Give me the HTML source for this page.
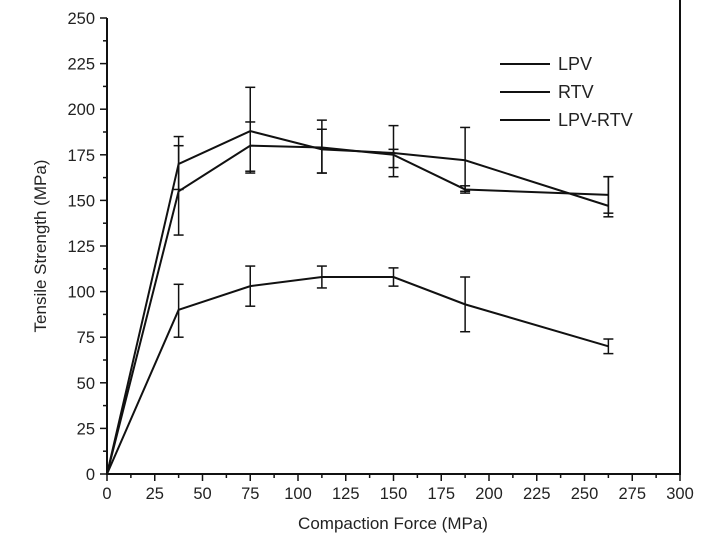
<!DOCTYPE html>
<html><head><style>body{margin:0;background:#fff}svg{display:block}text{font-family:"Liberation Sans",sans-serif;fill:#222}</style></head><body>
<svg width="720" height="546" xmlns="http://www.w3.org/2000/svg">
<g stroke="#111" stroke-width="2" fill="none">
<line x1="107" y1="18" x2="107" y2="475"/>
<line x1="106" y1="474" x2="681" y2="474"/>
<line x1="680" y1="0" x2="680" y2="475"/>
</g>
<g id="ticks" stroke="#111" stroke-width="1.5"></g>
<g id="lab" font-size="16.5"></g>
<g id="ser" stroke="#111" fill="none"></g>
<text x="393" y="529" font-size="17" text-anchor="middle">Compaction Force (MPa)</text>
<text transform="translate(46,246) rotate(-90)" font-size="17" text-anchor="middle">Tensile Strength (MPa)</text>
<g stroke="#111" stroke-width="2"><line x1="500" y1="64" x2="550" y2="64"/><line x1="500" y1="92" x2="550" y2="92"/><line x1="500" y1="120" x2="550" y2="120"/></g>
<g font-size="18"><text x="558" y="70">LPV</text><text x="558" y="98">RTV</text><text x="558" y="126">LPV-RTV</text></g>
<script>
var X=v=>107+v*1.91,Y=v=>474-v*1.824,ns="http://www.w3.org/2000/svg";
function el(p,t,a,txt){var e=document.createElementNS(ns,t);for(var k in a)e.setAttribute(k,a[k]);if(txt!=null)e.textContent=txt;document.getElementById(p).appendChild(e);}
for(var v=0;v<=300;v+=12.5){var maj=v%25==0;el("ticks","line",{x1:X(v),y1:474,x2:X(v),y2:474+(maj?7:4)});if(maj)el("lab","text",{x:X(v),y:499,"text-anchor":"middle"},v);}
for(var v=0;v<=250;v+=12.5){var maj=v%25==0;el("ticks","line",{x1:107,y1:Y(v),x2:107-(maj?7:4),y2:Y(v)});if(maj)el("lab","text",{x:95,y:Y(v)+6,"text-anchor":"end"},v);}
var xs=[0,37.5,75,112.5,150,187.5,262.5];
var S=[[[0,170,188,178,176,172,147],[0,185,212,194,191,190,163],[0,156,165,165,163,155,141]],
[[0,155,180,179,175,156,153],[0,180,193,189,178,158,163],[0,131,166,165,168,154,143]],
[[0,90,103,108,108,93,70],[0,104,114,114,113,108,74],[0,75,92,102,103,78,66]]];
S.forEach(s=>{el("ser","polyline",{points:xs.map((x,i)=>X(x)+","+Y(s[0][i])).join(" "),"stroke-width":2});
for(var i=1;i<7;i++){var x=X(xs[i]);el("ser","line",{x1:x,y1:Y(s[1][i]),x2:x,y2:Y(s[2][i]),"stroke-width":1.5});
[s[1][i],s[2][i]].forEach(v=>el("ser","line",{x1:x-5,y1:Y(v),x2:x+5,y2:Y(v),"stroke-width":1.5}));}});
</script>
</svg></body></html>
